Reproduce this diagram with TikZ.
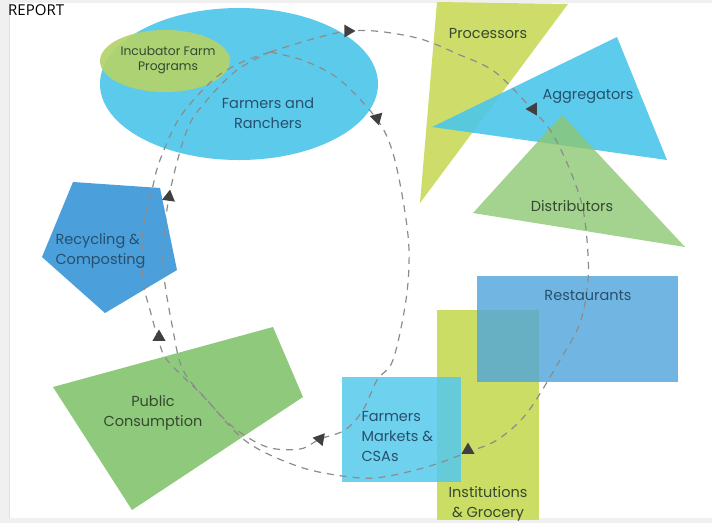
\documentclass[tikz,border=0pt]{standalone}
\usepackage{fontspec}
\setmainfont{Poppins}
\newfontfamily\reportfont{Open Sans}
\usetikzlibrary{shapes.geometric}
\definecolor{farmcyan}{HTML}{5CCBEB}
\definecolor{incgreen}{HTML}{B3D36B}
\definecolor{procyellow}{HTML}{CEDD6A}
\definecolor{aggcyan}{HTML}{4CC6EA}
\definecolor{distgreen}{HTML}{8DC872}
\definecolor{restblue}{HTML}{4EA4DB}
\definecolor{instyellow}{HTML}{CCDD66}
\definecolor{marketcyan}{HTML}{55C9EC}
\definecolor{pubgreen}{HTML}{8FCA7C}
\definecolor{recblue}{HTML}{4B9FDA}
\definecolor{txtblue}{HTML}{27506E}
\definecolor{txtgreen}{HTML}{34492E}
\definecolor{framegray}{HTML}{F0F0F0}
\tikzset{flow line/.style={draw=black!45, line width=1.2pt, dash pattern=on 7pt off 6pt},
  flow tip/.style={regular polygon, regular polygon sides=3, fill=black!75, inner sep=0pt, minimum size=15pt},
  blue label/.style={text=txtblue, align=center, font=\fontsize{14.5}{20}\selectfont},
  green label/.style={text=txtgreen, align=center, font=\fontsize{14.5}{20}\selectfont}}

\begin{document}
\begin{tikzpicture}[x=1pt,y=-1pt]
\useasboundingbox (0,0) rectangle (712,523);
\fill[framegray] (0,0) rectangle (712,523);
\fill[white] (9,3) rectangle (712,518);
\draw[black!12] (9,3) -- (9,518);
\node[anchor=west, font=\reportfont\fontsize{15}{17}\selectfont, inner sep=0pt] (report) at (8,10) {REPORT};

\fill[farmcyan] (239,84) ellipse [x radius=139, y radius=76];
\fill[incgreen, opacity=.93] (165,61) ellipse [x radius=65, y radius=31];
\fill[procyellow] (437,2) -- (568,4) -- (420,203) -- cycle;
\fill[aggcyan, opacity=.9] (432,127) -- (617,37) -- (667,160) -- cycle;
\fill[distgreen, opacity=.8] (562,115) -- (685,247) -- (473,213) -- cycle;
\fill[instyellow] (437,310) rectangle (539,520);
\fill[restblue, opacity=.8] (477,276) rectangle (678,382);
\fill[marketcyan, opacity=.85] (342,377) rectangle (461,482);
\fill[pubgreen] (53,387) -- (273,327) -- (303,397) -- (132,510) -- cycle;
\fill[recblue] (73,182) -- (160,188) -- (177,270) -- (105,313) -- (42,257) -- cycle;

\draw[flow line] plot[smooth, tension=.55] coordinates {(270,52) (348,31) (413,37) (460,55) (495,72) (532,109) (552,133) (570,170) (582,205) (587,240) (588,280) (580,323) (560,360) (527,413) (497,440) (468,452) (430,466) (383,477) (350,477) (300,467) (247,442) (207,400) (183,370) (173,330) (163,263) (169,197) (187,130) (207,100) (237,70) (270,52)};
\draw[flow line] plot[smooth, tension=.55] coordinates {(270,52) (305,61) (340,80) (376,118) (392,150) (403,200) (409,250) (406,300) (393,360) (377,380) (363,410) (345,430) (320,439) (300,449) (267,447) (233,427) (200,393) (167,360) (158,338) (150,310) (143,280) (143,230) (152,190) (160,160) (180,117) (213,80) (240,63) (270,52)};

\node[flow tip, rotate=-90] (tip farm) at (348,31) {};
\node[flow tip, rotate=75] (tip back) at (377,118) {};
\node[flow tip, rotate=90] (tip agg) at (533,109) {};
\node[flow tip] (tip inst) at (468,450) {};
\node[flow tip, rotate=80] (tip market) at (320,439) {};
\node[flow tip] (tip pub) at (159,337) {};
\node[flow tip, rotate=-8] (tip rec) at (169,197) {};

\node[green label, font=\fontsize{12.3}{15}\selectfont] (incubator) at (168,60) {Incubator Farm\\Programs};
\node[blue label, font=\fontsize{14.5}{20}\selectfont] (farmers) at (268,113) {Farmers and\\Ranchers};
\node[green label] (processors) at (488,34) {Processors};
\node[blue label] (aggregators) at (588,96) {Aggregators};
\node[green label] (distributors) at (572,206) {Distributors};
\node[blue label] (restaurants) at (588,296) {Restaurants};
\node[green label] (institutions) at (488,504) {Institutions\\\& Grocery};
\node[blue label, align=left, anchor=west] (markets) at (358,437) {Farmers\\Markets \&\\CSAs};
\node[green label] (public) at (153,413) {Public\\Consumption};
\node[blue label, align=left, anchor=west] (recycling) at (52,251) {Recycling \&\\Composting};
\end{tikzpicture}
\end{document}
